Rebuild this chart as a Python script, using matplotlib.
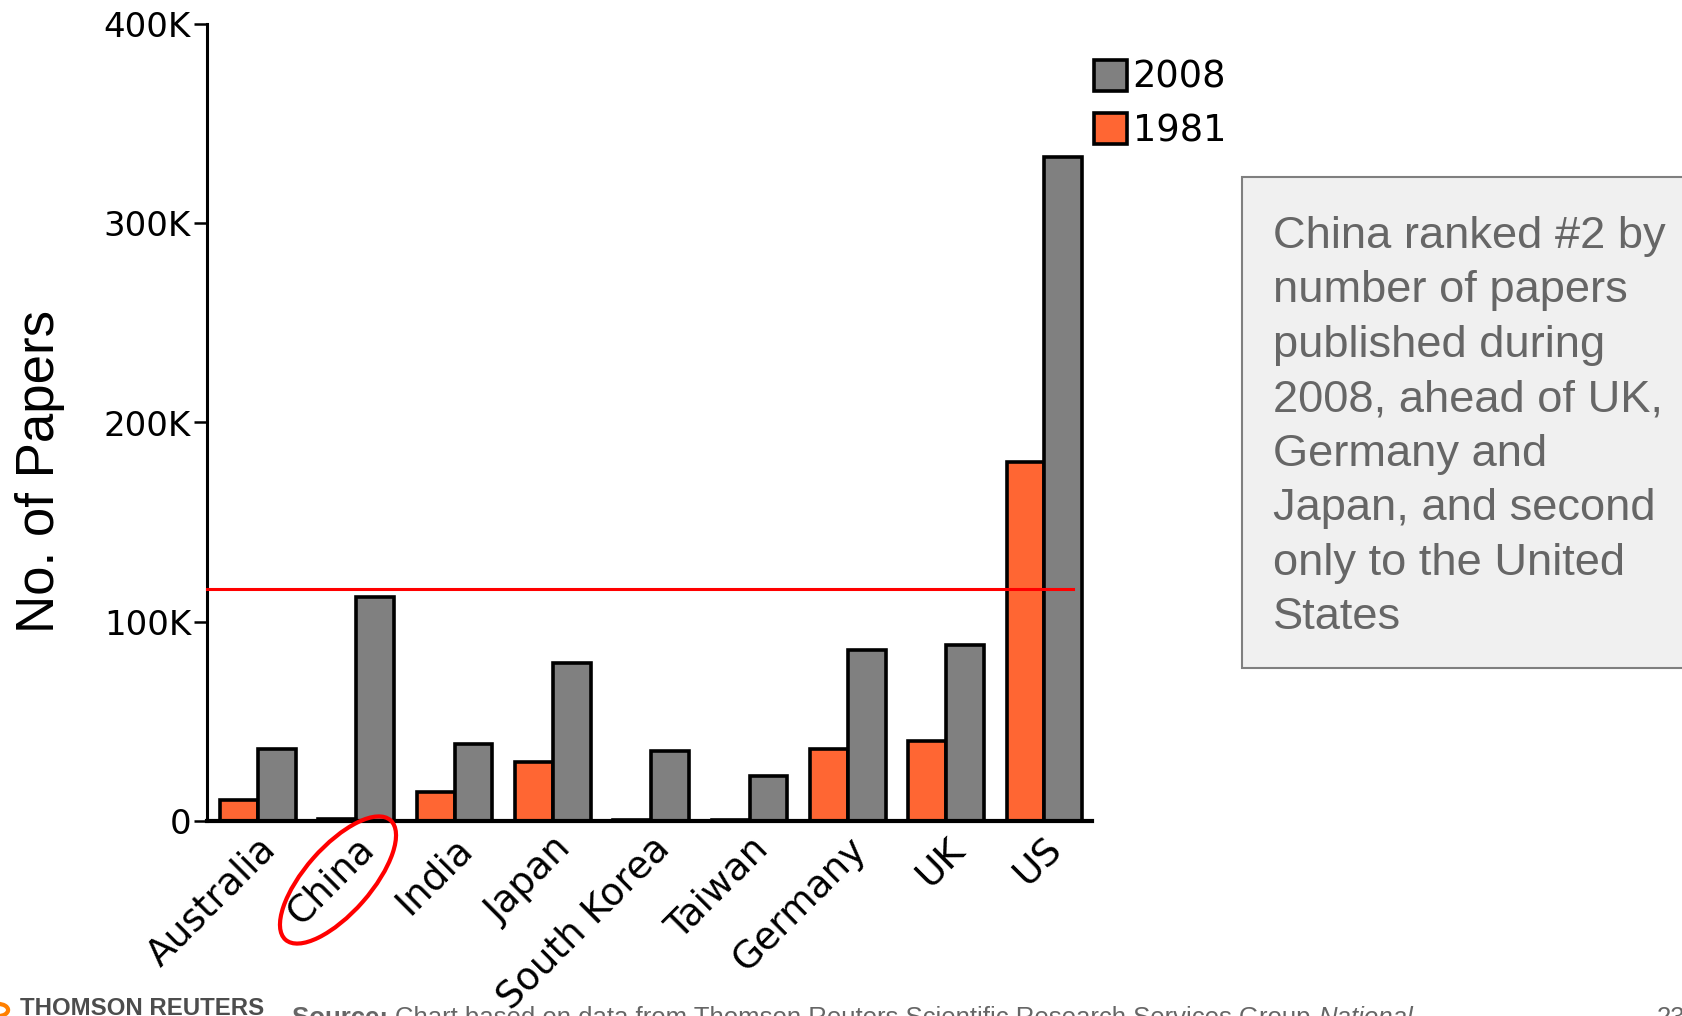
import matplotlib
matplotlib.use("Agg")
import matplotlib.pyplot as plt
import matplotlib.transforms as mtransforms
import numpy as np
from matplotlib.patches import Ellipse, Rectangle, Circle

countries = ["Australia", "China", "India", "Japan", "South Korea",
             "Taiwan", "Germany", "UK", "US"]
papers_1981 = [10500, 1200, 14500, 29500, 400, 500, 36000, 40000, 180000]
papers_2008 = [36000, 112500, 38500, 79500, 35000, 22500, 86000, 88500, 333500]
china_level = 116500
yticks = [0, 100000, 200000, 300000, 400000]
ytick_labels = ["0", "100K", "200K", "300K", "400K"]

note = ("China ranked #2 by\nnumber of papers\npublished during\n"
        "2008, ahead of UK,\nGermany and\nJapan, and second\n"
        "only to the United\nStates")

orange = "#ff6633"
grey = "#808080"

W, H = 1682, 1016
fig = plt.figure(figsize=(W / 100, H / 100), dpi=100)
ax = fig.add_axes([207 / W, 195 / H, 885 / W, 797 / H])

x = np.arange(len(countries))
w = 0.385
b81 = ax.bar(x - w / 2, papers_1981, w, color=orange, edgecolor="black",
             linewidth=2.6, label="1981", zorder=2)
b08 = ax.bar(x + w / 2, papers_2008, w, color=grey, edgecolor="black",
             linewidth=2.6, label="2008", zorder=2)

ax.plot([-0.519, 8.29], [china_level, china_level], color="red", lw=2.2,
        zorder=3, clip_on=False)

ax.set_xlim(-0.519, 8.484)
ax.set_ylim(0, 400000)
ax.set_yticks(yticks)
ax.set_yticklabels(ytick_labels, fontsize=24.5, family="DejaVu Sans")
ax.set_xticks(x)
ax.set_xticklabels(countries, fontsize=27, family="DejaVu Sans",
                   rotation=45, ha="right", va="top", rotation_mode="anchor")
# nudge the slanted names a little right/down
shift = mtransforms.ScaledTranslation(0.05, -0.02, fig.dpi_scale_trans)
for lab in ax.get_xticklabels():
    lab.set_transform(lab.get_transform() + shift)
ax.tick_params(axis="y", length=9.5, width=1.8, pad=2)
ax.tick_params(axis="x", length=0, pad=7)
for s in ["top", "right"]:
    ax.spines[s].set_visible(False)
ax.spines["left"].set_linewidth(2.2)
ax.spines["bottom"].set_linewidth(3)

fig.text(40 / W, 1 - 471 / H, "No. of Papers", rotation=90, ha="center",
         va="center", fontsize=38, family="Liberation Sans")

leg = ax.legend(handles=[b08, b81], loc="upper left", frameon=False,
                bbox_to_anchor=(1094 / W, 1 - 59 / H),
                bbox_transform=fig.transFigure,
                handlelength=0.9, handleheight=0.9, handletextpad=0.15,
                labelspacing=0.44, borderpad=0, borderaxespad=0,
                prop={"family": "DejaVu Sans", "size": 26.5})

# circle round the China label
ring = Ellipse((338 / 100, (H - 880) / 100), 1.59, 0.66, angle=48.7,
               transform=fig.dpi_scale_trans, fill=False, edgecolor="red",
               linewidth=3, clip_on=False)
fig.add_artist(ring)

# side note
box = Rectangle((1242 / W, (H - 668) / H), 0.4, 491 / H,
                transform=fig.transFigure, facecolor="#f0f0f0",
                edgecolor="#7f7f7f", linewidth=1.5, clip_on=False)
fig.add_artist(box)
fig.text(1273 / W, 1 - 216 / H, note, ha="left", va="top", fontsize=32.6,
         family="Liberation Sans", color="#666666", linespacing=1.42)

# footer, partly below the page edge
fig.add_artist(Circle((-2 / W, 6 / H), 0.006, transform=fig.transFigure,
                      fill=False, edgecolor="#ff8000", linewidth=3))
fig.text(20 / W, 1 / H, "THOMSON REUTERS", fontsize=17.3, weight="bold",
         family="Liberation Sans", color="#4d4d4d", va="baseline")

renderer = fig.canvas.get_renderer()
footer_y = -9 / H
xpos = 292 / W
for txt, kw in [("Source: ", {"weight": "bold"}),
                ("Chart based on data from Thomson Reuters Scientific "
                 "Research Services Group ", {}),
                ("National", {"style": "italic"})]:
    t = fig.text(xpos, footer_y, txt, fontsize=18.5, family="Liberation Sans",
                 color="#666666", va="baseline", **kw)
    xpos += t.get_window_extent(renderer).width / W
fig.text(1657 / W, footer_y, "23", fontsize=18.5, family="Liberation Sans",
         color="#666666", va="baseline")

fig.savefig("out.png", dpi=100)
